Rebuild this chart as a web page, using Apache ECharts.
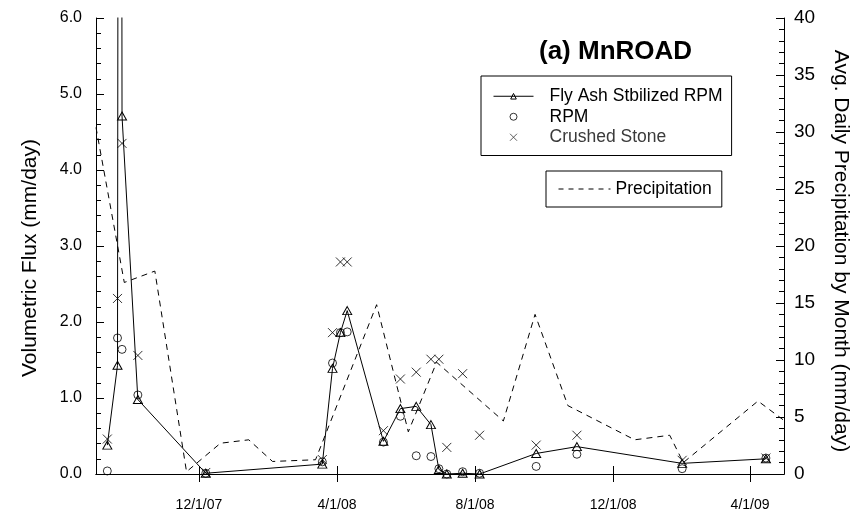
<!DOCTYPE html>
<html>
<head>
<meta charset="utf-8">
<script src="https://cdn.jsdelivr.net/npm/echarts@6/dist/echarts.min.js"></script>
<style>
  html, body { margin: 0; padding: 0; background: #fff; }
  #chart { width: 859px; height: 514px; }
</style>
</head>
<body>
<div id="chart"></div>
<script>
// Sampling dates of the lysimeter flux measurements
const sampleDates = [
  '2007-09-11', '2007-09-20', '2007-09-22', '2007-09-24', '2007-10-08', '2007-12-07',
  '2008-03-19', '2008-03-28', '2008-04-04', '2008-04-10', '2008-05-12', '2008-05-27',
  '2008-06-10', '2008-06-23', '2008-06-30', '2008-07-07', '2008-07-21', '2008-08-05',
  '2008-09-24', '2008-10-30', '2009-01-31', '2009-04-15'
];
// Volumetric flux, mm/day
const flyAshFlux = [0.38, 1.43, 30, 4.71, 0.98, 0.01, 0.13, 1.39, 1.86, 2.15, 0.43, 0.86,
  0.89, 0.65, 0.06, 0.00, 0.01, 0.00, 0.27, 0.36, 0.14, 0.20];
const rpmFlux = [0.04, 1.79, null, 1.64, 1.04, 0.01, 0.16, 1.46, 1.86, 1.87, 0.42, 0.76,
  0.24, 0.23, 0.07, 0.00, 0.03, 0.01, 0.10, 0.26, 0.07, 0.21];
const crushedStoneFlux = [0.46, 2.31, null, 4.35, 1.56, 0.02, 0.19, 1.86, 2.79, 2.79, 0.57, 1.25,
  1.34, 1.51, 1.51, 0.35, 1.32, 0.51, 0.38, 0.51, 0.18, 0.21];

// Average daily precipitation by month, mm/day
const precipDates = [
  '2007-09-01', '2007-09-26', '2007-10-23', '2007-11-20', '2007-12-20', '2008-01-14',
  '2008-02-04', '2008-03-13', '2008-05-06', '2008-06-03', '2008-06-28', '2008-08-26',
  '2008-09-23', '2008-10-22', '2008-12-20', '2009-01-20', '2009-02-01', '2009-04-08',
  '2009-05-01'
];
const precipValues = [30.4, 16.8, 17.8, 0.2, 2.7, 3.0, 1.1, 1.25, 14.85, 3.7, 9.8, 4.65,
  14.0, 6.0, 3.0, 3.4, 1.0, 6.4, 4.7];

// Axis range and labelled dates
const xRange = ['2007-09-01', '2009-05-01'];
const xTickDates = ['2007-12-01', '2008-04-01', '2008-08-01', '2008-12-01', '2009-04-01'];

const ts = s => Date.parse(s + 'T00:00:00Z');
const pairs = (dates, vals) => dates.map((d, i) => [ts(d), vals[i]]);
const fmtDate = v => {
  const d = new Date(v);
  return (d.getUTCMonth() + 1) + '/' + d.getUTCDate() + '/' + String(d.getUTCFullYear()).slice(2);
};

const FONT = '"Liberation Sans", Arial, sans-serif';
const tickVals = xTickDates.map(ts);
const crossPath = 'path://M0,0L10,10M10,0L0,10';
const hollow = { color: 'rgba(0,0,0,0)', borderColor: '#000', borderWidth: 1 };

const chart = echarts.init(document.getElementById('chart'), null, { renderer: 'canvas' });

chart.setOption({
  backgroundColor: '#fff',
  animation: false,
  textStyle: { fontFamily: FONT, color: '#000' },
  title: {
    text: '(a) MnROAD',
    left: 539,
    top: 39,
    padding: 0,
    textStyle: { fontFamily: FONT, fontSize: 26, fontWeight: 'bold', color: '#000' }
  },
  grid: { left: 96, right: 74, top: 18, bottom: 40 },
  legend: [
    {
      orient: 'vertical',
      left: 481,
      top: 76,
      padding: [10, 9, 8, 12],
      itemWidth: 40,
      itemHeight: 7,
      itemGap: 0,
      borderColor: '#000',
      borderWidth: 1,
      selectedMode: false,
      itemStyle: hollow,
      lineStyle: { color: '#000', width: 1 },
      textStyle: { fontFamily: FONT, fontSize: 17.5, lineHeight: 20.5, color: '#000', padding: [0, 0, 0, 11] },
      data: [
        'Fly Ash Stbilized RPM',
        'RPM',
        { name: 'Crushed Stone', textStyle: { color: '#3a3a3a' }, itemStyle: { borderColor: '#3a3a3a' } }
      ]
    },
    {
      orient: 'vertical',
      left: 546,
      top: 171,
      padding: [9, 10, 9, 12],
      itemWidth: 52,
      itemHeight: 7,
      borderColor: '#000',
      borderWidth: 1,
      selectedMode: false,
      itemStyle: { color: 'rgba(0,0,0,0)', borderWidth: 0 },
      lineStyle: { color: '#000', width: 1, type: [5, 5] },
      textStyle: { fontFamily: FONT, fontSize: 17.5, lineHeight: 18, color: '#000' },
      data: ['Precipitation']
    }
  ],
  xAxis: [
    {
      type: 'value',
      min: ts(xRange[0]),
      max: ts(xRange[1]),
      position: 'bottom',
      splitLine: { show: false },
      axisLine: { lineStyle: { color: '#000', width: 1 } },
      axisTick: { inside: true, length: 8, lineStyle: { color: '#000' }, customValues: tickVals },
      axisLabel: {
        customValues: tickVals,
        formatter: fmtDate,
        fontFamily: FONT, fontSize: 14, color: '#000', margin: 24
      }
    },
    {
      type: 'value',
      min: ts(xRange[0]),
      max: ts(xRange[1]),
      position: 'top',
      splitLine: { show: false },
      axisLine: { lineStyle: { color: '#000', width: 1 } },
      axisTick: { inside: true, length: 8, lineStyle: { color: '#000' }, customValues: tickVals },
      axisLabel: { show: false }
    }
  ],
  yAxis: [
    {
      type: 'value',
      min: 0, max: 6, interval: 1,
      position: 'left',
      name: 'Volumetric Flux (mm/day)',
      nameLocation: 'middle',
      nameRotate: 90,
      nameGap: 55,
      nameTextStyle: { fontFamily: FONT, fontSize: 21, color: '#000', padding: [0, 24, 0, 0] },
      splitLine: { show: false },
      axisLine: { show: true, lineStyle: { color: '#000', width: 1 } },
      axisTick: { show: true, inside: true, length: 8, lineStyle: { color: '#000' } },
      minorTick: { show: true, splitNumber: 5, length: 5, lineStyle: { color: '#000' } },
      axisLabel: { formatter: v => v.toFixed(1), fontFamily: FONT, fontSize: 16, color: '#000', margin: 14 }
    },
    {
      type: 'value',
      min: 0, max: 40, interval: 5,
      position: 'right',
      name: 'Avg. Daily Precipitation by Month (mm/day)',
      nameLocation: 'middle',
      nameRotate: -90,
      nameGap: 46,
      nameTextStyle: { fontFamily: FONT, fontSize: 21, color: '#000', padding: [0, 0, 0, 10] },
      splitLine: { show: false },
      axisLine: { show: true, lineStyle: { color: '#000', width: 1 } },
      axisTick: { show: true, inside: true, length: 8, lineStyle: { color: '#000' } },
      minorTick: { show: true, splitNumber: 5, length: 5, lineStyle: { color: '#000' } },
      axisLabel: { fontFamily: FONT, fontSize: 19, color: '#000', margin: 10 }
    }
  ],
  series: [
    {
      name: 'Precipitation',
      type: 'line',
      xAxisIndex: 0,
      yAxisIndex: 1,
      data: pairs(precipDates, precipValues),
      symbol: 'none',
      lineStyle: { color: '#000', width: 1, type: [6, 5] },
      itemStyle: { color: 'rgba(0,0,0,0)' },
      z: 2
    },
    {
      name: 'Fly Ash Stbilized RPM',
      type: 'line',
      xAxisIndex: 0,
      yAxisIndex: 0,
      data: pairs(sampleDates, flyAshFlux),
      symbol: 'triangle',
      symbolSize: [9, 8],
      showAllSymbol: true,
      lineStyle: { color: '#000', width: 1 },
      itemStyle: hollow,
      z: 3
    },
    {
      name: 'RPM',
      type: 'scatter',
      xAxisIndex: 0,
      yAxisIndex: 0,
      data: pairs(sampleDates, rpmFlux).filter(p => p[1] !== null),
      symbol: 'circle',
      symbolSize: 8,
      itemStyle: hollow,
      z: 4
    },
    {
      name: 'Crushed Stone',
      type: 'scatter',
      xAxisIndex: 0,
      yAxisIndex: 0,
      data: pairs(sampleDates, crushedStoneFlux).filter(p => p[1] !== null),
      symbol: crossPath,
      symbolSize: 9,
      itemStyle: hollow,
      z: 4
    }
  ]
});
</script>
</body>
</html>
